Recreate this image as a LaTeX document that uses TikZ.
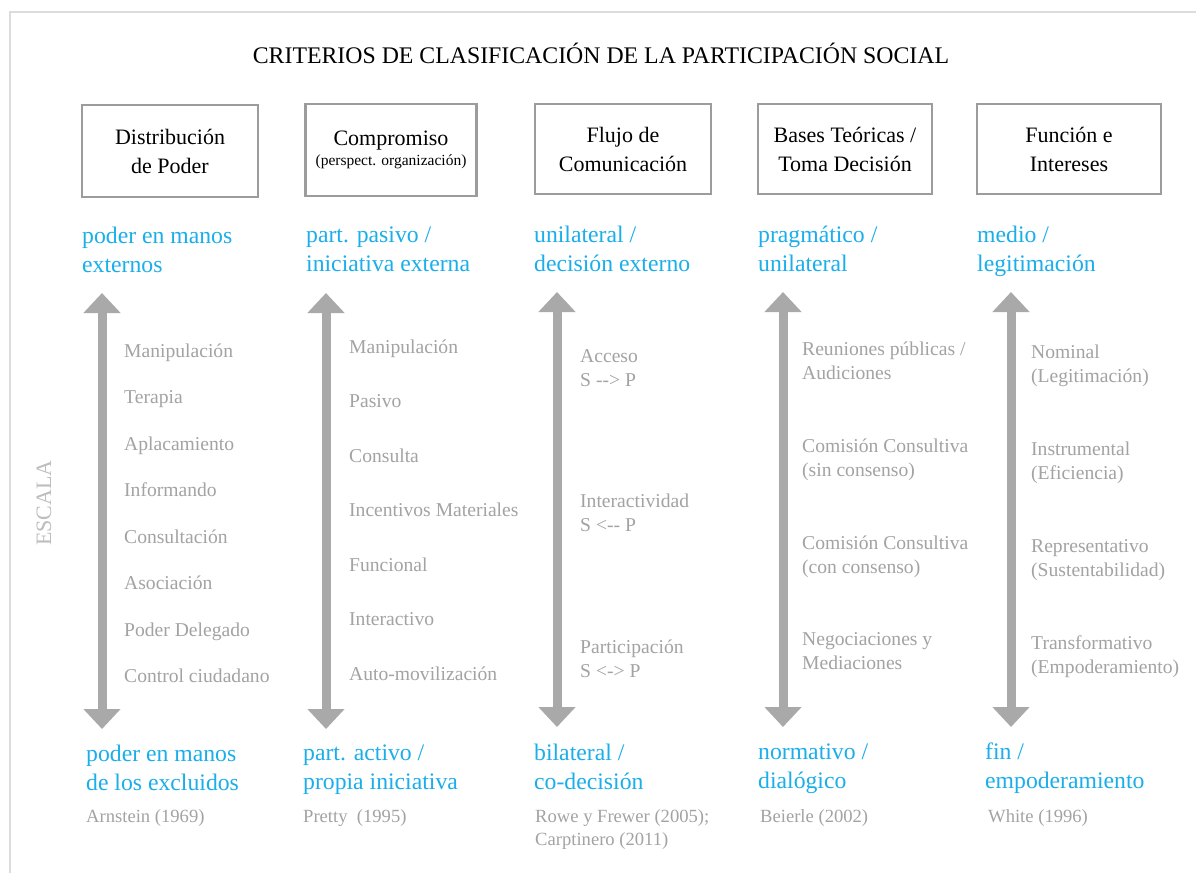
\documentclass[tikz,border=0pt]{standalone}
\usepackage{fontspec}
\setmainfont{Liberation Serif}
\usetikzlibrary{arrows.meta}
\definecolor{cblue}{HTML}{1AAEEA}
\definecolor{ctext}{HTML}{A3A3A3}
\definecolor{carrow}{HTML}{A9A9A9}
\definecolor{cbox}{HTML}{9C9C9C}
\definecolor{cframe}{HTML}{DCDCDC}
\definecolor{cescala}{HTML}{BDBDBD}
\tikzset{
  hdrbox/.style={draw=cbox, line width=2.4pt, align=center, inner sep=0pt,
     font=\fontsize{22}{29}\selectfont},
  bluelbl/.style={anchor=base west, inner sep=0pt, align=left, text=cblue,
     font=\fontsize{23.7}{28.8}\selectfont},
  item/.style={anchor=base west, inner sep=0pt, align=left, text=ctext,
     font=\fontsize{19.6}{24}\selectfont},
  ref/.style={anchor=base west, inner sep=0pt, align=left, text=ctext,
     font=\fontsize{18.6}{23}\selectfont},
  scalearrow/.style={draw=carrow, line width=9pt,
     {Triangle[width=36pt,length=20pt]}-{Triangle[width=36pt,length=20pt]}},
}
\begin{document}
\begin{tikzpicture}[x=1pt,y=-1pt]
\useasboundingbox (0,0) rectangle (1196,873);
\fill[white] (0,0) rectangle (1196,873);
% outer frame
\coordinate (fbl) at (10,873);
\coordinate (ftl) at (10,12);
\coordinate (ftr) at (1196,12);
\draw[cframe, line width=2pt] (fbl) -- (ftl) -- (ftr);
% title
\node[anchor=base, inner sep=0pt, font=\fontsize{23.8}{28}\selectfont] (title) at (601,63)
  {CRITERIOS DE CLASIFICACIÓN DE LA PARTICIPACIÓN SOCIAL};
% ESCALA
\node[rotate=90, inner sep=0pt, text=cescala, font=\fontsize{22}{26}\selectfont] (escala) at (44,503) {ESCALA};
% header boxes
\node[hdrbox, minimum width=176pt, minimum height=92pt] (b1) at (170,151) {Distribución\\de Poder};
\node[hdrbox, minimum width=171pt, minimum height=92pt] (b2) at (391,150)
  {Compromiso\\[-9pt]{\fontsize{15.5}{18}\selectfont (perspect. organización)}};
\node[hdrbox, minimum width=176pt, minimum height=90pt] (b3) at (623,149) {Flujo de\\Comunicación};
\node[hdrbox, minimum width=174pt, minimum height=90pt] (b4) at (845,149) {Bases Teóricas /\\Toma Decisión};
\node[hdrbox, minimum width=184pt, minimum height=90pt] (b5) at (1069,149) {Función e\\Intereses};
% top blue labels (anchor = baseline of last line)
\node[bluelbl] (t1) at (82,272) {poder en manos\\externos};
\node[bluelbl] (t2) at (306,271) {part. pasivo /\\iniciativa externa};
\node[bluelbl] (t3) at (534,271) {unilateral /\\decisión externo};
\node[bluelbl] (t4) at (758,271) {pragmático /\\unilateral};
\node[bluelbl] (t5) at (977,271) {medio /\\legitimación};
% arrows
\coordinate (a1t) at (102,293); \coordinate (a1b) at (102,729);
\coordinate (a2t) at (326,293); \coordinate (a2b) at (326,729);
\coordinate (a3t) at (557,292); \coordinate (a3b) at (557,727);
\coordinate (a4t) at (783,292); \coordinate (a4b) at (783,727);
\coordinate (a5t) at (1011,292); \coordinate (a5b) at (1011,727);
\draw[scalearrow] (a1t) -- (a1b);
\draw[scalearrow] (a2t) -- (a2b);
\draw[scalearrow] (a3t) -- (a3b);
\draw[scalearrow] (a4t) -- (a4b);
\draw[scalearrow] (a5t) -- (a5b);
% column 1 items
\node[item] (c1i1) at (124,357) {Manipulación};
\node[item] (c1i2) at (124,403.5) {Terapia};
\node[item] (c1i3) at (124,450) {Aplacamiento};
\node[item] (c1i4) at (124,496.5) {Informando};
\node[item] (c1i5) at (124,543) {Consultación};
\node[item] (c1i6) at (124,589.5) {Asociación};
\node[item] (c1i7) at (124,636) {Poder Delegado};
\node[item] (c1i8) at (124,682.5) {Control ciudadano};
% column 2 items
\node[item] (c2i1) at (349,353) {Manipulación};
\node[item] (c2i2) at (349,407.5) {Pasivo};
\node[item] (c2i3) at (349,462) {Consulta};
\node[item] (c2i4) at (349,516.5) {Incentivos Materiales};
\node[item] (c2i5) at (349,571) {Funcional};
\node[item] (c2i6) at (349,625.5) {Interactivo};
\node[item] (c2i7) at (349,680) {Auto-movilización};
% column 3 items
\node[item] (c3i1) at (580,386) {Acceso\\S -{}-> P};
\node[item] (c3i2) at (580,531) {Interactividad\\S <-{}- P};
\node[item] (c3i3) at (580,677) {Participación\\S <-> P};
% column 4 items
\node[item] (c4i1) at (802,379) {Reuniones públicas /\\Audiciones};
\node[item] (c4i2) at (802,476) {Comisión Consultiva\\(sin consenso)};
\node[item] (c4i3) at (802,573) {Comisión Consultiva\\(con consenso)};
\node[item] (c4i4) at (802,669) {Negociaciones y\\Mediaciones};
% column 5 items
\node[item] (c5i1) at (1031,382) {Nominal\\(Legitimación)};
\node[item] (c5i2) at (1031,479) {Instrumental\\(Eficiencia)};
\node[item] (c5i3) at (1031,576) {Representativo\\(Sustentabilidad)};
\node[item] (c5i4) at (1031,673) {Transformativo\\(Empoderamiento)};
% bottom blue labels
\node[bluelbl] (u1) at (86,790) {poder en manos\\de los excluidos};
\node[bluelbl] (u2) at (303,789) {part. activo /\\propia iniciativa};
\node[bluelbl] (u3) at (534,789) {bilateral /\\co-decisión};
\node[bluelbl] (u4) at (758,788) {normativo /\\dialógico};
\node[bluelbl] (u5) at (985,788) {fin /\\empoderamiento};
% references
\node[ref] (r1) at (86,822) {Arnstein (1969)};
\node[ref] (r2) at (303,822) {Pretty~ (1995)};
\node[ref] (r3) at (535,845) {Rowe y Frewer (2005);\\Carptinero (2011)};
\node[ref] (r4) at (760,822) {Beierle (2002)};
\node[ref] (r5) at (988,822) {White (1996)};
\end{tikzpicture}
\end{document}
